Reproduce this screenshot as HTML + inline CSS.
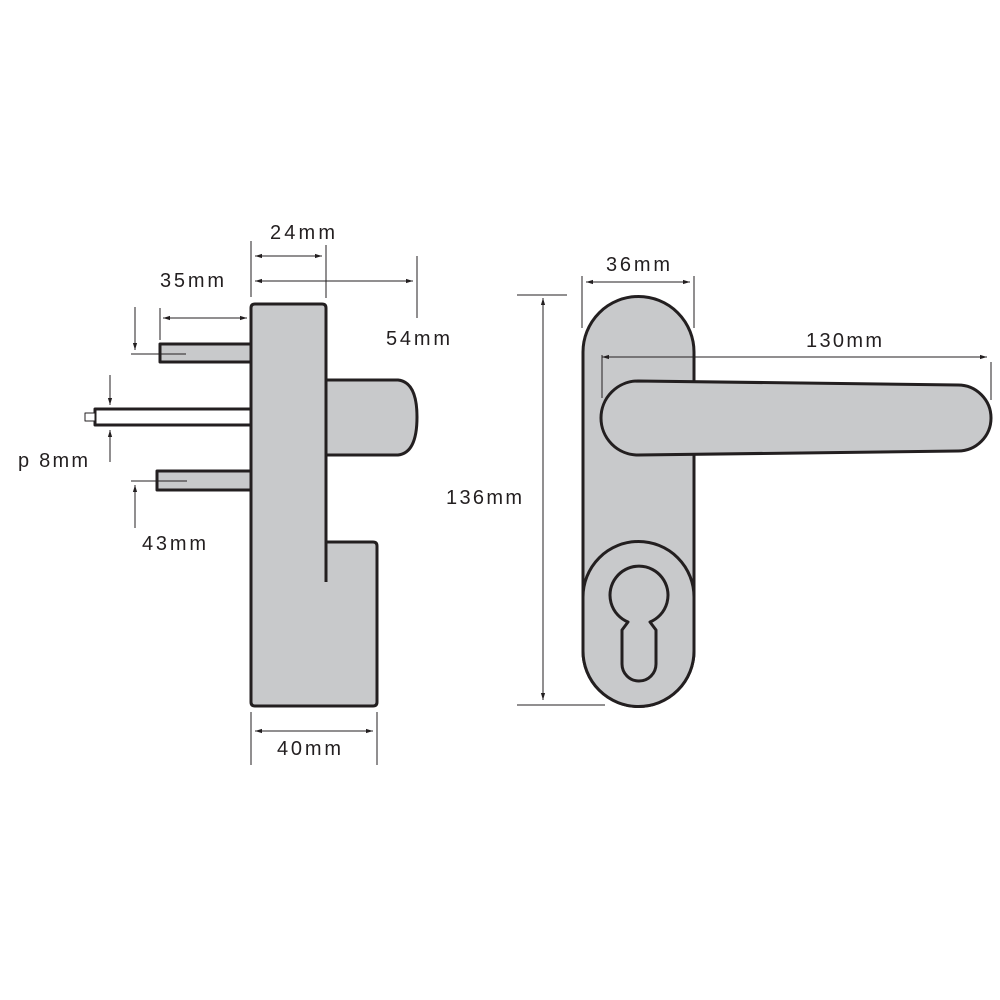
<!DOCTYPE html>
<html><head><style>html,body{margin:0;padding:0;background:#fff}svg{display:block}</style></head><body>
<svg width="1000" height="1000" viewBox="0 0 1000 1000" xmlns="http://www.w3.org/2000/svg">
<defs><marker id="a" viewBox="0 0 10 10" refX="10" refY="5" markerWidth="7" markerHeight="7" orient="auto-start-reverse"><path d="M0,2 L10,5 L0,8z" fill="#231f20"/></marker></defs>
<g fill="#c8c9cb" stroke="#231f20" stroke-width="3" stroke-linejoin="round">
<rect x="160" y="344" width="91" height="18"/>
<rect x="157" y="471" width="94" height="19"/>
<rect x="95" y="409" width="156" height="16" fill="#fff"/>
<rect x="85" y="413" width="10" height="8" fill="#fff" stroke-width="1"/>
<path d="M326,380 H398 Q417,382 417,417 Q417,453 398,455 H326Z"/>
<path d="M255,304 H322 Q326,304 326,308 V542 H373 Q377,542 377,546 V702 Q377,706 373,706 H255 Q251,706 251,702 V308 Q251,304 255,304Z"/>
<path d="M326,542 V582" fill="none"/>
<path d="M583,352 A55.5,55.5 0 0 1 694,352 V651 A55.5,55.5 0 0 1 583,651Z"/>
<path d="M583,597 A55.5,55.5 0 0 1 694,597 V651 A55.5,55.5 0 0 1 583,651Z"/>
<path d="M628,622 A29,29 0 1 1 650,622 L656,630 V664 A17,17 0 0 1 622,664 V630Z" fill="#c8c9cb"/>
<path d="M638,381 L958,385 A33,33 0 0 1 958,451 L638,455 A37,37 0 0 1 638,381Z"/>
</g>
<g stroke="#231f20" stroke-width="1" fill="none">
<path d="M251,241V297M326,245V298M417,256V318M160,308V340M251,712V765M377,712V765"/>
<path d="M255,256H322" marker-start="url(#a)" marker-end="url(#a)"/>
<path d="M255,281H413" marker-start="url(#a)" marker-end="url(#a)"/>
<path d="M163,318H247" marker-start="url(#a)" marker-end="url(#a)"/>
<path d="M255,731H373" marker-start="url(#a)" marker-end="url(#a)"/>
<path d="M131,354H186M131,481H187"/>
<path d="M135,307V350" marker-end="url(#a)"/>
<path d="M110,375V405" marker-end="url(#a)"/>
<path d="M110,462V430" marker-end="url(#a)"/>
<path d="M135,528V485" marker-end="url(#a)"/>
<path d="M582,276V328M694,276V328M602,355V398M991,362V400M517,295H567M517,705H605"/>
<path d="M586,282H690" marker-start="url(#a)" marker-end="url(#a)"/>
<path d="M602,357H987" marker-start="url(#a)" marker-end="url(#a)"/>
<path d="M543,298V700" marker-start="url(#a)" marker-end="url(#a)"/>
</g>
<g font-family="Liberation Sans, sans-serif" font-size="20" fill="#231f20" lengthAdjust="spacing">
<text x="270" y="239" textLength="65">24mm</text>
<text x="386" y="345" textLength="64">54mm</text>
<text x="160" y="287" textLength="64">35mm</text>
<text x="18" y="467" textLength="70">p 8mm</text>
<text x="142" y="550" textLength="64">43mm</text>
<text x="277" y="755" textLength="64">40mm</text>
<text x="606" y="271" textLength="64">36mm</text>
<text x="806" y="347" textLength="76">130mm</text>
<text x="446" y="504" textLength="76">136mm</text>
</g>
</svg>
</body></html>
